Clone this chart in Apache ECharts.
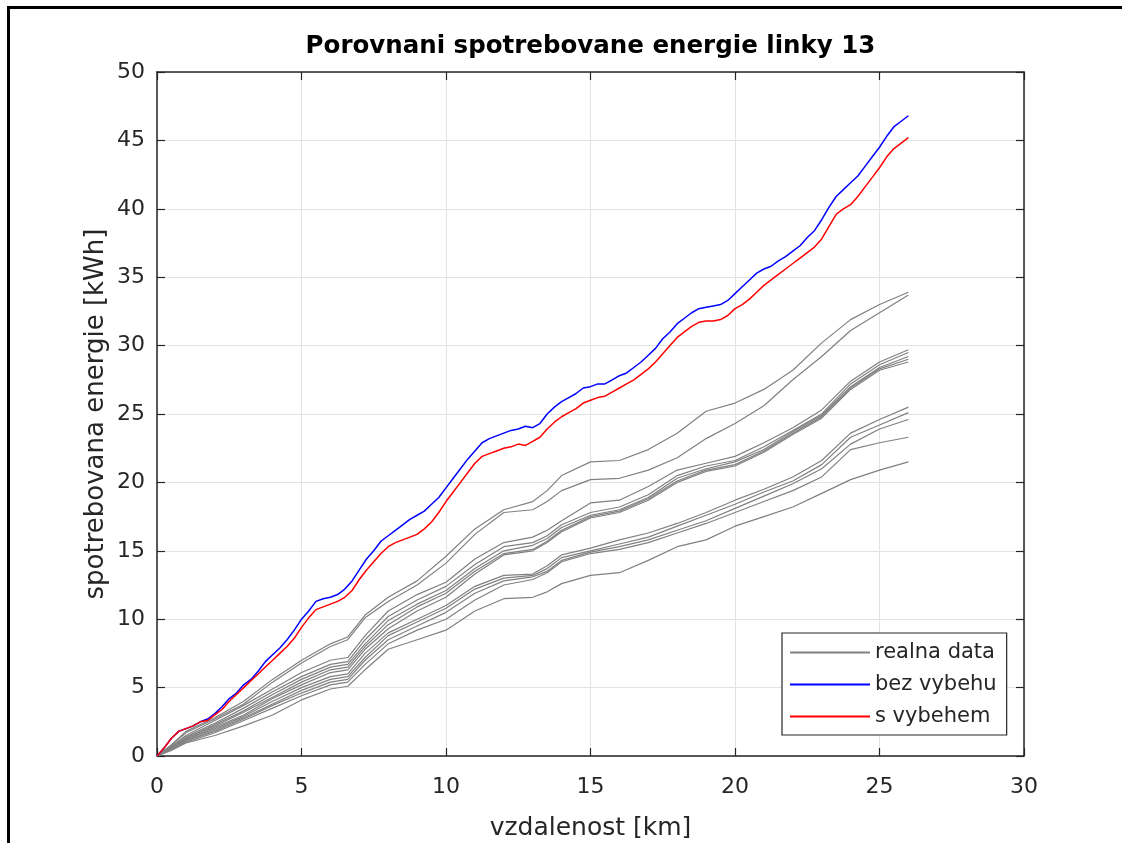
<!DOCTYPE html>
<html>
<head>
<meta charset="utf-8">
<script src="https://cdn.jsdelivr.net/npm/echarts@6/dist/echarts.min.js"></script>
<style>
html,body{margin:0;padding:0;background:#fff;}
#chart{width:1122px;height:843px;}
</style>
</head>
<body>
<div id="chart"></div>
<script>
// ---------- data ----------
const titleText = 'Porovnani spotrebovane energie linky 13';
const xName = 'vzdalenost [km]';
const yName = 'spotrebovana energie [kWh]';
const xTicks = [0, 5, 10, 15, 20, 25, 30];
const yTicks = [0, 5, 10, 15, 20, 25, 30, 35, 40, 45, 50];

// distance grid for simulated curves (km), step 0.25
const simKm = [0,0.25,0.5,0.75,1,1.25,1.5,1.75,2,2.25,2.5,2.75,3,3.25,3.5,3.75,4,4.25,4.5,4.75,5,5.25,5.5,5.75,6,6.25,6.5,6.75,7,7.25,7.5,7.75,8,8.25,8.5,8.75,9,9.25,9.5,9.75,10,10.25,10.5,10.75,11,11.25,11.5,11.75,12,12.25,12.5,12.75,13,13.25,13.5,13.75,14,14.25,14.5,14.75,15,15.25,15.5,15.75,16,16.25,16.5,16.75,17,17.25,17.5,17.75,18,18.25,18.5,18.75,19,19.25,19.5,19.75,20,20.25,20.5,20.75,21,21.25,21.5,21.75,22,22.25,22.5,22.75,23,23.25,23.5,23.75,24,24.25,24.5,24.75,25,25.25,25.5,25.75,26];
const bezVybehu = [0,0.6,1.3,1.8,2.0,2.2,2.5,2.7,3.1,3.6,4.2,4.6,5.2,5.6,6.2,6.9,7.4,7.9,8.5,9.2,10.0,10.6,11.3,11.5,11.6,11.8,12.2,12.8,13.6,14.4,15.0,15.7,16.1,16.5,16.9,17.3,17.6,17.9,18.4,18.9,19.6,20.3,21.0,21.7,22.3,22.9,23.2,23.4,23.6,23.8,23.9,24.1,24.0,24.3,25.0,25.5,25.9,26.2,26.5,26.9,27.0,27.2,27.2,27.5,27.8,28.0,28.4,28.8,29.3,29.8,30.5,31.0,31.6,32.0,32.4,32.7,32.8,32.9,33.0,33.3,33.8,34.3,34.8,35.3,35.6,35.8,36.2,36.5,36.9,37.3,37.9,38.4,39.2,40.1,40.9,41.4,41.9,42.4,43.1,43.8,44.5,45.3,46.0,46.4,46.8];
const sVybehem = [0,0.6,1.3,1.8,2.0,2.2,2.5,2.6,3.0,3.4,4.0,4.5,5.0,5.5,6.0,6.5,7.0,7.5,8.0,8.6,9.4,10.1,10.7,10.9,11.1,11.3,11.6,12.1,12.9,13.6,14.2,14.8,15.3,15.6,15.8,16.0,16.2,16.6,17.1,17.8,18.6,19.3,20.0,20.7,21.4,21.9,22.1,22.3,22.5,22.6,22.8,22.7,23.0,23.3,23.9,24.4,24.8,25.1,25.4,25.8,26.0,26.2,26.3,26.6,26.9,27.2,27.5,27.9,28.3,28.8,29.4,30.0,30.6,31.0,31.4,31.7,31.8,31.8,31.9,32.2,32.7,33.0,33.4,33.9,34.4,34.8,35.2,35.6,36.0,36.4,36.8,37.2,37.8,38.7,39.6,40.0,40.3,40.9,41.6,42.3,43.0,43.8,44.4,44.8,45.2];

// distance grid for measured runs (km)
const realKm = [0,0.5,1,2,3,4,5,6,6.6,7.2,8,9,10,11,12,13,13.5,14,15,16,17,18,19,20,21,22,23,24,25,26];
const real01 = [0,0.8,1.8,2.8,4.0,5.6,7.0,8.2,8.7,10.3,11.6,12.8,14.6,16.6,18.0,18.6,19.4,20.5,21.5,21.6,22.4,23.6,25.2,25.8,26.8,28.2,30.2,31.9,33.0,33.9];
const real02 = [0,0.8,1.7,2.7,3.8,5.4,6.8,8.0,8.5,10.1,11.3,12.5,14.1,16.2,17.8,18.0,18.6,19.4,20.2,20.3,20.9,21.8,23.2,24.3,25.6,27.5,29.2,31.1,32.4,33.7];
const real03 = [0,0.7,1.5,2.6,3.7,4.9,6.1,7.0,7.2,8.8,10.6,11.8,12.7,14.4,15.6,16.0,16.5,17.2,18.5,18.7,19.7,20.9,21.4,21.9,22.9,24.0,25.3,27.4,28.8,29.7];
const real04 = [0,0.7,1.4,2.4,3.5,4.7,5.8,6.7,6.9,8.5,10.2,11.4,12.4,14.0,15.3,15.6,16.1,16.9,17.8,18.2,19.1,20.5,21.2,21.6,22.6,23.8,25.0,27.2,28.6,29.5];
const real05 = [0,0.6,1.3,2.3,3.3,4.5,5.6,6.5,6.7,8.2,9.9,11.1,12.1,13.7,15.0,15.4,15.9,16.7,17.6,18.0,18.9,20.3,21.0,21.5,22.4,23.7,24.9,27.0,28.4,29.2];
const real06 = [0,0.6,1.3,2.2,3.2,4.3,5.4,6.3,6.5,8.0,9.6,10.9,11.9,13.5,14.8,15.1,15.7,16.5,17.5,17.9,18.8,20.1,20.9,21.3,22.3,23.6,24.8,26.9,28.3,29.0];
const real07 = [0,0.6,1.2,2.1,3.0,4.2,5.2,6.1,6.3,7.8,9.3,10.6,11.6,13.3,14.7,15.0,15.6,16.4,17.4,17.8,18.7,20.0,20.8,21.2,22.2,23.5,24.7,26.8,28.2,28.8];
const real08 = [0,0.6,1.2,2.0,2.9,4.0,5.0,5.8,6.0,7.5,9.0,10.0,11.0,12.4,13.2,13.3,13.9,14.7,15.2,15.8,16.3,17.0,17.8,18.7,19.5,20.4,21.6,23.6,24.6,25.5];
const real09 = [0,0.5,1.1,1.9,2.8,3.8,4.8,5.6,5.8,7.2,8.8,9.8,10.8,12.2,13.0,13.2,13.7,14.5,15.0,15.5,16.0,16.8,17.6,18.4,19.3,20.1,21.3,23.3,24.2,25.1];
const real10 = [0,0.5,1.1,1.8,2.7,3.7,4.6,5.4,5.6,7.0,8.5,9.5,10.5,11.9,12.8,13.1,13.5,14.3,14.9,15.3,15.8,16.5,17.2,18.1,19.0,19.9,21.0,22.8,23.9,24.6];
const real11 = [0,0.5,1.0,1.7,2.6,3.5,4.4,5.2,5.4,6.7,8.2,9.2,10.0,11.4,12.5,12.9,13.4,14.2,14.8,15.1,15.6,16.3,17.0,17.8,18.6,19.4,20.4,22.4,22.9,23.3];
const real12 = [0,0.4,0.95,1.5,2.2,3.0,4.1,4.9,5.1,6.3,7.8,8.5,9.2,10.6,11.5,11.6,12.0,12.6,13.2,13.4,14.3,15.3,15.8,16.8,17.5,18.2,19.2,20.2,20.9,21.5];
const realRuns = [real01, real02, real03, real04, real05, real06, real07, real08, real09, real10, real11, real12];

const nameReal = 'realna data';
const nameBez = 'bez vybehu';
const nameS = 's vybehem';

// ---------- chart ----------
const FONT = 'DejaVu Sans';
const INK = '#262626';
const pairs = (xs, ys) => xs.map((x, i) => [x, ys[i]]);

const series = [];
realRuns.forEach(run => {
  series.push({
    name: nameReal, type: 'line', data: pairs(realKm, run),
    showSymbol: false, symbol: 'none',
    lineStyle: { color: '#808080', width: 1.2 }, itemStyle: { color: '#808080' },
    emphasis: { disabled: true }, z: 2
  });
});
series.push({
  name: nameBez, type: 'line', data: pairs(simKm, bezVybehu),
  showSymbol: false, symbol: 'none',
  lineStyle: { color: '#0000ff', width: 1.5 }, itemStyle: { color: '#0000ff' },
  emphasis: { disabled: true }, z: 3
});
series.push({
  name: nameS, type: 'line', data: pairs(simKm, sVybehem),
  showSymbol: false, symbol: 'none',
  lineStyle: { color: '#ff0000', width: 1.5 }, itemStyle: { color: '#ff0000' },
  emphasis: { disabled: true }, z: 4
});

const baseAxis = {
  type: 'value',
  axisLine: { show: true, onZero: false, lineStyle: { color: INK, width: 1.5 } },
  axisTick: { show: true, inside: true, length: 8, lineStyle: { color: INK, width: 1.2 } },
  minorTick: { show: false }
};

const chart = echarts.init(document.getElementById('chart'), null, { renderer: 'canvas' });
chart.setOption({
  animation: false,
  backgroundColor: '#ffffff',
  textStyle: { fontFamily: FONT },
  grid: { left: 157, top: 72, right: 98, bottom: 87, containLabel: false, outerBoundsMode: 'none' },
  xAxis: [
    Object.assign({}, baseAxis, {
      position: 'bottom', min: xTicks[0], max: xTicks[xTicks.length - 1], interval: 5,
      name: xName, nameLocation: 'middle', nameGap: 60, nameMoveOverlap: false,
      nameTextStyle: { fontFamily: FONT, fontSize: 25, color: INK },
      axisLabel: { fontFamily: FONT, fontSize: 22, color: INK, margin: 20 },
      splitLine: { show: true, lineStyle: { color: '#e2e2e2', width: 1 } }
    }),
    Object.assign({}, baseAxis, {
      position: 'top', min: xTicks[0], max: xTicks[xTicks.length - 1], interval: 5,
      axisLabel: { show: false }, splitLine: { show: false }
    })
  ],
  yAxis: [
    Object.assign({}, baseAxis, {
      position: 'left', min: yTicks[0], max: yTicks[yTicks.length - 1], interval: 5,
      name: yName, nameLocation: 'middle', nameGap: 48, nameMoveOverlap: false,
      nameTextStyle: { fontFamily: FONT, fontSize: 26, color: INK },
      axisLabel: { fontFamily: FONT, fontSize: 22, color: INK, margin: 12 },
      splitLine: { show: true, lineStyle: { color: '#e2e2e2', width: 1 } }
    }),
    Object.assign({}, baseAxis, {
      position: 'right', min: yTicks[0], max: yTicks[yTicks.length - 1], interval: 5,
      axisLabel: { show: false }, splitLine: { show: false }
    })
  ],
  legend: {
    data: [
      { name: nameReal, icon: 'rect' },
      { name: nameBez, icon: 'rect' },
      { name: nameS, icon: 'rect' }
    ],
    orient: 'vertical', left: 782, top: 633,
    padding: [9, 10, 8, 8], itemGap: 11, itemWidth: 80, itemHeight: 2,
    backgroundColor: '#ffffff', borderColor: INK, borderWidth: 1.2, borderRadius: 0,
    textStyle: { fontFamily: FONT, fontSize: 21, color: INK },
    selectedMode: false
  },
  graphic: [
    { type: 'text', x: 590.5, y: 47, z: 10,
      style: { text: titleText, font: 'bold 24.5px "DejaVu Sans"', fill: '#000',
               textAlign: 'center', textVerticalAlign: 'middle' } },
    { type: 'line', shape: { x1: 7, y1: 7.5, x2: 1122, y2: 7.5 }, style: { stroke: '#000', lineWidth: 3 } },
    { type: 'line', shape: { x1: 8.5, y1: 6, x2: 8.5, y2: 843 }, style: { stroke: '#000', lineWidth: 3 } }
  ],
  series: series
});
</script>
</body>
</html>
